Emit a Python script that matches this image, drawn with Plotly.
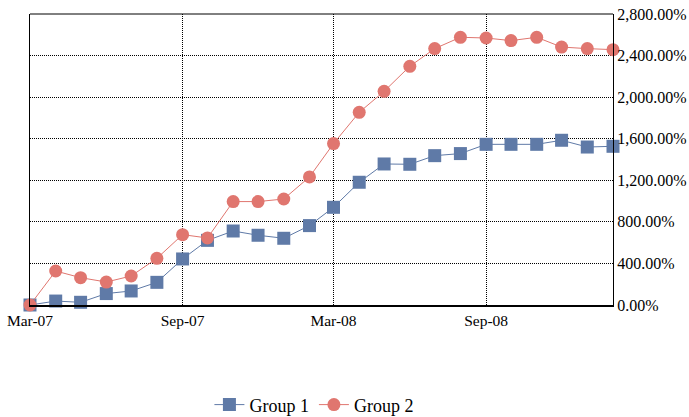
import plotly.graph_objects as go
import pandas as pd

months = pd.date_range("2007-03-01", "2009-02-01", freq="MS")
group1 = [0, 38, 26, 110, 135, 218, 443, 622, 712, 671, 642, 764, 940,
          1181, 1357, 1354, 1437, 1457, 1546, 1546, 1546, 1585, 1520, 1527]
group2 = [0, 327, 263, 221, 279, 449, 677, 645, 995, 995, 1020, 1232, 1553,
          1854, 2056, 2297, 2467, 2576, 2569, 2544, 2576, 2482, 2467, 2457]

fig = go.Figure()
fig.add_trace(go.Scatter(x=months, y=group1, name="Group 1", mode="lines+markers",
                         line=dict(color="#5f7aa7", width=1),
                         marker=dict(symbol="square", size=13, color="#5f7aa7"),
                         cliponaxis=False))
fig.add_trace(go.Scatter(x=months, y=group2, name="Group 2", mode="lines+markers",
                         line=dict(color="#e0766f", width=1),
                         marker=dict(symbol="circle", size=13, color="#e0766f"),
                         cliponaxis=False))

fig.update_layout(
    width=689, height=417,
    margin=dict(l=30, r=76, t=14, b=112),
    paper_bgcolor="white", plot_bgcolor="white",
    font=dict(family="Liberation Serif", size=16, color="black"),
    showlegend=True,
    legend=dict(orientation="h", x=0.487, xanchor="center", yref="container",
                y=0.029, yanchor="middle", font=dict(size=18)),
    xaxis=dict(type="date", range=[months[0], months[-1]], tick0=months[0], dtick="M6",
               tickformat="%b-%y", showgrid=True, gridcolor="black", griddash="1px,1px",
               gridwidth=1, showline=True, linecolor="black", linewidth=2, mirror=False,
               ticks="", zeroline=False, automargin=False, tickfont=dict(size=15.5)),
    yaxis=dict(side="right", range=[0, 2800], dtick=400, tickformat=",.2f", ticksuffix="%",
               showgrid=True, gridcolor="black", griddash="1px,1px", gridwidth=1.3,
               showline=True, linecolor="black", linewidth=1, mirror=True,
               ticks="", zeroline=False, automargin=False, tickfont=dict(size=16)),
)
fig.add_shape(type="line", xref="paper", yref="paper", x0=0, x1=1, y0=1, y1=1,
              line=dict(color="black", width=1))
fig.write_html("out.html", config={"displayModeBar": False},
               post_script="document.body.style.margin='0';document.body.style.overflow='hidden';")
